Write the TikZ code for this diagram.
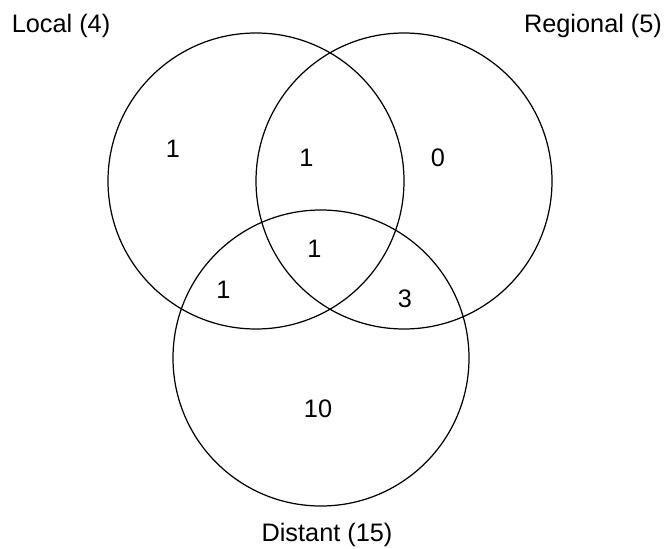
\documentclass[tikz,border=0pt]{standalone}
\usepackage{fontspec}
\setmainfont{Liberation Sans}
\begin{document}
\begin{tikzpicture}[set/.style={draw,circle,line width=0.7pt,minimum size=5.92cm,inner sep=0pt},
                    count/.style={anchor=base,font=\fontsize{14.4pt}{17pt}\selectfont}]
                \useasboundingbox (0,0) rectangle (13.34,10.96);
                \draw node[set] (local) at (5.12,7.34) {};
                \draw node[set] (regional) at (8.08,7.34) {};
                \draw node[set] (distant) at (6.42,3.80) {};

                \draw node[count] (localname) at (1.22,10.31) {Local (4)};
                \draw node[count] (regionalname) at (11.86,10.31) {Regional (5)};
                \draw node[count] (distantname) at (6.54,0.13) {Distant (15)};

                \draw node[count] (l) at (3.46,7.82) {1};
                \draw node[count] (lr) at (6.13,7.64) {1};
                \draw node[count] (r) at (8.76,7.64) {0};
                \draw node[count] (lrd) at (6.29,5.82) {1};
                \draw node[count] (ld) at (4.47,5.00) {1};
                \draw node[count] (rd) at (8.10,4.82) {3};
                \draw node[count] (d) at (6.36,2.62) {10};
            \end{tikzpicture}
\end{document}
